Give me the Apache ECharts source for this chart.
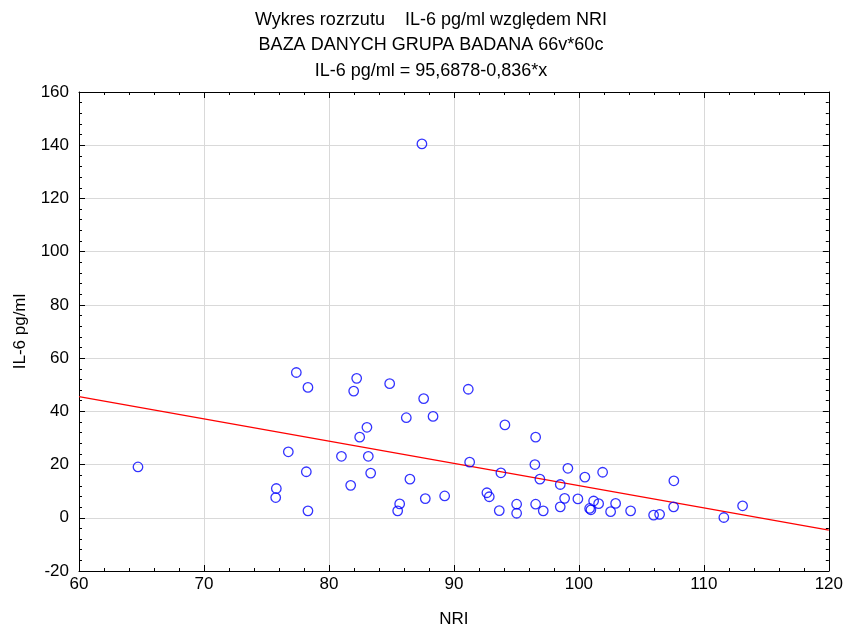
<!DOCTYPE html>
<html>
<head>
<meta charset="utf-8">
<script src="https://cdn.jsdelivr.net/npm/echarts@6/dist/echarts.min.js"></script>
<style>html,body{margin:0;padding:0;background:#fff;}#c{width:846px;height:633px;}</style>
</head>
<body>
<div id="c"></div>
<script>
// ---- data ----
const titleLines = [
  'Wykres rozrzutu    IL-6 pg/ml względem NRI',
  'BAZA DANYCH GRUPA BADANA 66v*60c',
  'IL-6 pg/ml = 95,6878-0,836*x'
];
const xName = 'NRI';
const yName = 'IL-6 pg/ml';
const nri = [64.72, 76.75, 81.0, 78.19, 75.79, 75.74, 78.32, 81.74, 77.39, 78.32,
  82.22, 81.98, 84.86, 87.58, 91.15, 86.19, 88.33, 94.08, 83.04, 82.46,
  96.54, 83.15, 91.26, 96.48, 83.34, 93.76, 86.48, 89.26, 87.71, 92.64,
  92.83, 85.66, 85.5, 93.63, 95.02, 95.02, 96.54, 99.12, 101.9, 100.48,
  96.88, 98.51, 107.6, 97.15, 98.51, 98.86, 99.92, 101.18, 100.86, 100.96,
  101.58, 102.54, 102.94, 104.14, 105.98, 106.46, 107.58, 111.6, 113.1, 87.44];
const il6 = [19.1, 24.8, 23.1, 17.3, 11.0, 7.6, 2.6, 12.2, 54.6, 49.0,
  52.4, 47.6, 50.4, 44.8, 48.3, 37.6, 38.1, 34.9, 34.0, 30.3,
  30.3, 23.1, 20.9, 20.0, 16.8, 16.9, 14.5, 8.2, 7.2, 9.4,
  7.9, 5.2, 2.6, 2.7, 5.1, 1.7, 5.1, 18.6, 17.1, 15.3,
  14.5, 12.5, 13.9, 2.6, 4.1, 7.3, 7.1, 6.3, 3.5, 3.0,
  5.3, 2.3, 5.4, 2.6, 1.0, 1.3, 4.1, 0.1, 4.5, 140.5];
const regIntercept = 95.6878;
const regSlope = -0.836;
const xMin = 60, xMax = 120, xStep = 10;
const yMin = -20, yMax = 160, yStep = 20;

// ---- chart ----
const FONT = "'Liberation Sans', Arial, sans-serif";
const points = nri.map((x, i) => [x, il6[i]]);
const fitLine = [xMin, xMax].map(x => [x, regIntercept + regSlope * x]);

const baseAxis = {
  type: 'value',
  axisLine: { show: true, onZero: false, lineStyle: { color: '#000', width: 1 } },
  axisTick: { show: true, inside: true, length: 6, lineStyle: { color: '#000' } },
  minorTick: { show: true, splitNumber: 5, length: 3, lineStyle: { color: '#000' } },
  axisLabel: { color: '#000', fontSize: 17, fontFamily: FONT },
  nameTextStyle: { color: '#000', fontSize: 17, fontFamily: FONT }
};

const chart = echarts.init(document.getElementById('c'), null, { renderer: 'canvas' });
chart.setOption({
  animation: false,
  backgroundColor: '#fff',
  graphic: titleLines.map((t, i) => ({
    type: 'text', x: 431, y: [20, 45.5, 71][i],
    style: { text: t, textAlign: 'center', textVerticalAlign: 'middle',
             font: '18px ' + FONT, fill: '#000' }
  })),
  grid: { left: 79, right: 17, top: 92, bottom: 58 },
  xAxis: [
    Object.assign({}, baseAxis, {
      position: 'bottom', min: xMin, max: xMax, interval: xStep,
      name: xName, nameLocation: 'middle', nameGap: 40,
      axisLabel: Object.assign({}, baseAxis.axisLabel, { margin: 5 }),
      splitLine: { show: true, lineStyle: { color: '#d9d9d9', width: 1 } }
    }),
    Object.assign({}, baseAxis, {
      position: 'top', min: xMin, max: xMax, interval: xStep,
      axisLabel: { show: false }, splitLine: { show: false }
    })
  ],
  yAxis: [
    Object.assign({}, baseAxis, {
      position: 'left', min: yMin, max: yMax, interval: yStep,
      name: yName, nameLocation: 'middle', nameGap: 50,
      axisLabel: Object.assign({}, baseAxis.axisLabel, { margin: 10 }),
      splitLine: { show: true, lineStyle: { color: '#d9d9d9', width: 1 } }
    }),
    Object.assign({}, baseAxis, {
      position: 'right', min: yMin, max: yMax, interval: yStep,
      axisLabel: { show: false }, splitLine: { show: false }
    })
  ],
  series: [
    {
      type: 'line', data: fitLine, xAxisIndex: 0, yAxisIndex: 0,
      showSymbol: false, symbol: 'none', silent: true,
      lineStyle: { color: '#ff0000', width: 1.2 }, z: 2
    },
    {
      type: 'scatter', data: points, xAxisIndex: 0, yAxisIndex: 0,
      symbol: 'circle', symbolSize: 9.5,
      itemStyle: { color: 'rgba(0,0,0,0)', borderColor: '#0000ff', borderWidth: 1.3 },
      z: 3
    }
  ]
});
</script>
</body>
</html>
